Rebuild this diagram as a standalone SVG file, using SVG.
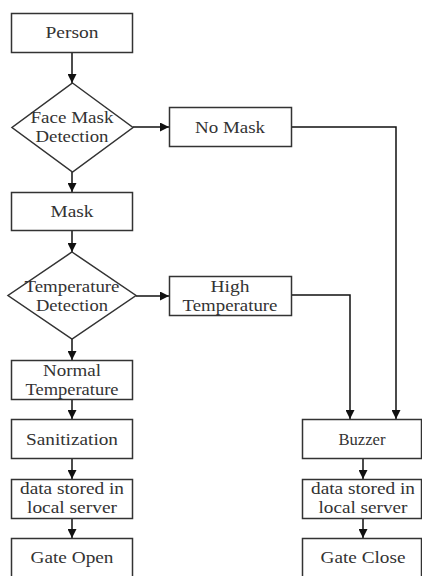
<svg xmlns="http://www.w3.org/2000/svg" width="422" height="576" viewBox="0 0 422 576">
<style>
.box{fill:#fff;stroke:#333;stroke-width:1.5}
.t{font-family:"Liberation Serif","Times New Roman",serif;font-size:17px;fill:#333;text-anchor:middle}
.c{fill:none;stroke:#111;stroke-width:1.5}
</style>
<defs>
<marker id="ah" viewBox="0 0 10 10" refX="10" refY="5" markerWidth="9" markerHeight="9" markerUnits="userSpaceOnUse" orient="auto">
<path d="M0,0 L10,5 L0,10 z" fill="#111"/>
</marker>
</defs>
<rect width="422" height="576" fill="#fff"/>
<g id="connectors">
<path class="c" d="M72,52 V83" marker-end="url(#ah)"/>
<path class="c" d="M133,127 H169" marker-end="url(#ah)"/>
<path class="c" d="M72,172 V192" marker-end="url(#ah)"/>
<path class="c" d="M292,127 H396 V419" marker-end="url(#ah)"/>
<path class="c" d="M72,231 V252" marker-end="url(#ah)"/>
<path class="c" d="M136,296 H169" marker-end="url(#ah)"/>
<path class="c" d="M292,295 H350 V419" marker-end="url(#ah)"/>
<path class="c" d="M72,339 V360" marker-end="url(#ah)"/>
<path class="c" d="M72,400 V419" marker-end="url(#ah)"/>
<path class="c" d="M72,459 V479" marker-end="url(#ah)"/>
<path class="c" d="M72,519 V538" marker-end="url(#ah)"/>
<path class="c" d="M363,459 V479" marker-end="url(#ah)"/>
<path class="c" d="M363,519 V538" marker-end="url(#ah)"/>
</g>
<g id="person">
<rect class="box" x="11.5" y="13.5" width="121" height="39"/>
<text class="t" x="72" y="38" textLength="53" lengthAdjust="spacingAndGlyphs">Person</text>
</g>
<g id="face-mask-detection">
<polygon class="box" points="72.5,83 133,127.5 72.5,172 12,127.5"/>
<text class="t" x="72" y="123" textLength="83" lengthAdjust="spacingAndGlyphs">Face Mask</text>
<text class="t" x="72" y="142" textLength="73" lengthAdjust="spacingAndGlyphs">Detection</text>
</g>
<g id="no-mask">
<rect class="box" x="169.5" y="107.5" width="122" height="39"/>
<text class="t" x="230" y="133" textLength="70" lengthAdjust="spacingAndGlyphs">No Mask</text>
</g>
<g id="mask">
<rect class="box" x="11.5" y="192.5" width="121" height="38"/>
<text class="t" x="72" y="217" textLength="43" lengthAdjust="spacingAndGlyphs">Mask</text>
</g>
<g id="temperature-detection">
<polygon class="box" points="72,252 136,295.5 72,339 8,295.5"/>
<text class="t" x="72" y="292" textLength="95" lengthAdjust="spacingAndGlyphs">Temperature</text>
<text class="t" x="72" y="311" textLength="72" lengthAdjust="spacingAndGlyphs">Detection</text>
</g>
<g id="high-temperature">
<rect class="box" x="169.5" y="276.5" width="122" height="39"/>
<text class="t" x="230" y="292" textLength="39" lengthAdjust="spacingAndGlyphs">High</text>
<text class="t" x="230" y="311" textLength="95" lengthAdjust="spacingAndGlyphs">Temperature</text>
</g>
<g id="normal-temperature">
<rect class="box" x="11.5" y="360.5" width="121" height="39"/>
<text class="t" x="72" y="376" textLength="58" lengthAdjust="spacingAndGlyphs">Normal</text>
<text class="t" x="72" y="395" textLength="93" lengthAdjust="spacingAndGlyphs">Temperature</text>
</g>
<g id="sanitization">
<rect class="box" x="11.5" y="419.5" width="121" height="39"/>
<text class="t" x="72" y="445" textLength="92" lengthAdjust="spacingAndGlyphs">Sanitization</text>
</g>
<g id="data-stored-left">
<rect class="box" x="11.5" y="479.5" width="121" height="39"/>
<text class="t" x="72" y="494" textLength="104" lengthAdjust="spacingAndGlyphs">data stored in</text>
<text class="t" x="72" y="513" textLength="90" lengthAdjust="spacingAndGlyphs">local server</text>
</g>
<g id="gate-open">
<rect class="box" x="11.5" y="538.5" width="121" height="40"/>
<text class="t" x="72" y="563" textLength="83" lengthAdjust="spacingAndGlyphs">Gate Open</text>
</g>
<g id="buzzer">
<rect class="box" x="302.5" y="419.5" width="119" height="39"/>
<text class="t" x="362" y="445" textLength="47" lengthAdjust="spacingAndGlyphs">Buzzer</text>
</g>
<g id="data-stored-right">
<rect class="box" x="302.5" y="479.5" width="119" height="39"/>
<text class="t" x="363" y="494" textLength="104" lengthAdjust="spacingAndGlyphs">data stored in</text>
<text class="t" x="363" y="513" textLength="89" lengthAdjust="spacingAndGlyphs">local server</text>
</g>
<g id="gate-close">
<rect class="box" x="302.5" y="538.5" width="119" height="40"/>
<text class="t" x="363" y="563" textLength="85" lengthAdjust="spacingAndGlyphs">Gate Close</text>
</g>
</svg>
